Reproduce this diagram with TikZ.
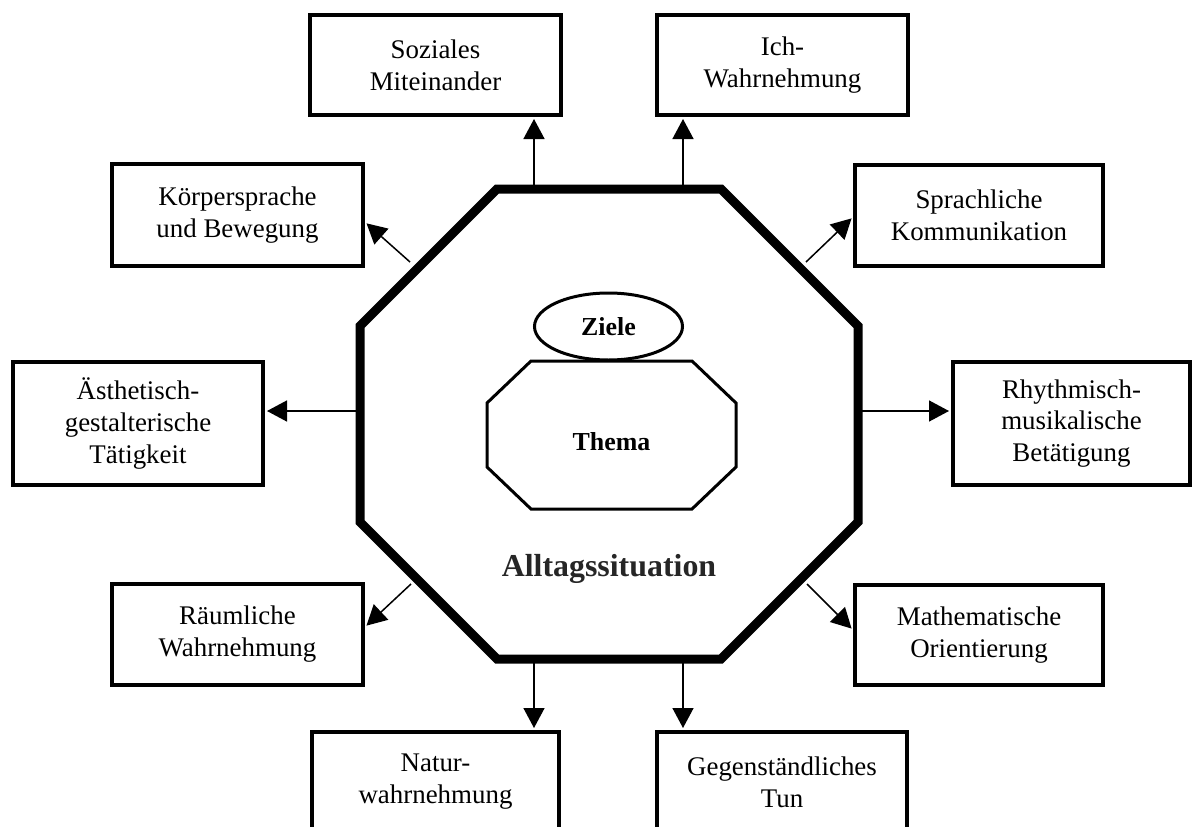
\documentclass[tikz,border=0pt]{standalone}
\usepackage{fontspec}
\setmainfont{Liberation Serif}
\usetikzlibrary{arrows.meta,shapes.geometric}
\begin{document}
\begin{tikzpicture}[x=1bp,y=-1bp,
  box/.style={draw,line width=4bp,inner sep=0pt,align=center,
    minimum height=100bp,minimum width=250bp,
    font=\fontsize{27}{32}\selectfont},
  arr/.style={line width=1.5bp,shorten >=2bp,-{Triangle[length=20bp,width=21bp]}},
  big/.style={line width=9bp,line join=miter},
  inner/.style={line width=3bp,line join=miter},
  btext/.style={font=\fontsize{26}{30}\selectfont\bfseries,inner sep=0pt}
]
\clip (0,0) rectangle (1193,827);
\fill[white] (0,0) rectangle (1193,827);

% boxes
\node[box,minimum width=251bp] (soz) at (435.5,65) {Soziales\\Miteinander};
\node[box,minimum width=251bp] (ich) at (782.5,65) {Ich-\\Wahrnehmung};
\node[box,minimum width=251bp,minimum height=102bp] (koer) at (237.5,215) {Körpersprache\\und Bewegung};
\node[box,minimum width=248bp,minimum height=101bp] (spr) at (979,215) {Sprachliche\\Kommunikation};
\node[box,minimum width=250bp,minimum height=123bp] (aest) at (138,423.5) {Ästhetisch-\\gestalterische\\Tätigkeit};
\node[box,minimum width=237bp,minimum height=123bp] (rhy) at (1071.5,423.5) {Rhythmisch-\\musikalische\\Betätigung};
\node[box,minimum width=251bp,minimum height=101bp] (raum) at (237.5,634.5) {Räumliche\\Wahrnehmung};
\node[box,minimum width=248bp] (math) at (979,635) {Mathematische\\Orientierung};
\node[box,minimum width=247bp] (natur) at (435.5,782) {Natur-\\wahrnehmung};
\node[box,minimum width=250bp] (gegen) at (782,782) {Gegenständliches\\Tun};

% arrow tails on the octagon
\coordinate (oN1) at (534,189);
\coordinate (oN2) at (683,189);
\coordinate (oS1) at (534,659);
\coordinate (oS2) at (683,659);
\coordinate (oW) at (360,411);
\coordinate (oE) at (858,411);
\coordinate (oNW) at (410,262);
\coordinate (oNE) at (806,262);
\coordinate (oSW) at (411,584);
\coordinate (oSE) at (807,584);

\draw[arr] (oN1) -- (oN1 |- soz.south);
\draw[arr] (oN2) -- (oN2 |- ich.south);
\draw[arr] (oS1) -- (oS1 |- natur.north);
\draw[arr] (oS2) -- (oS2 |- gegen.north);
\draw[arr] (oW) -- (oW -| aest.east);
\draw[arr] (oE) -- (oE -| rhy.west);
\draw[arr] (oNW) -- ([yshift=-7bp]koer.east);
\draw[arr] (oNE) -- ([yshift=-2bp]spr.west);
\draw[arr] (oSW) -- ([yshift=7.5bp]raum.east);
\draw[arr] (oSE) -- ([yshift=5bp]math.west);

% outer octagon
\draw[big] (497,189) -- (721,189) -- (858,326) -- (858,522) -- (721,659)
  -- (497,659) -- (360,522) -- (360,326) -- cycle;

% inner octagon
\draw[inner] (531,361) -- (692,361) -- (736,403) -- (736,467) -- (692,509)
  -- (531,509) -- (487,467) -- (487,403) -- cycle;

\node[draw,ellipse,line width=3bp,minimum width=148bp,minimum height=67bp,
  inner sep=0pt,fill=white,font=\fontsize{26}{30}\selectfont\bfseries] (ziele) at (608.5,326.5) {Ziele};
\node[btext,anchor=base] (thema) at (611.5,450) {Thema};
\node[anchor=base,inner sep=0pt,font=\fontsize{32}{36}\selectfont\bfseries,text=black!85] (all) at (609,576) {Alltagssituation};
\end{tikzpicture}
\end{document}
